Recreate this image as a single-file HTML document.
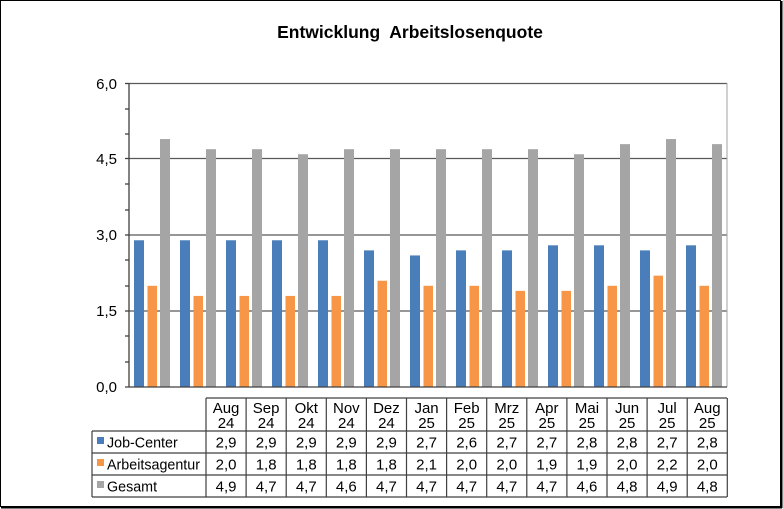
<!DOCTYPE html>
<html><head><meta charset="utf-8"><style>
html,body{margin:0;padding:0;background:#fff}
svg{display:block;font-family:"Liberation Sans",Arial,sans-serif}
</style></head><body>
<svg width="783" height="509" viewBox="0 0 783 509" xmlns="http://www.w3.org/2000/svg">
<rect x="0.5" y="0.5" width="780" height="506" fill="#fff" stroke="#000" stroke-width="1"/>
<line x1="781.5" y1="1" x2="781.5" y2="508" stroke="#000" stroke-width="2"/>
<line x1="1" y1="507.5" x2="782" y2="507.5" stroke="#000" stroke-width="2"/>
<text x="410" y="38" text-anchor="middle" font-size="17.5" font-weight="bold">Entwicklung&#160; Arbeitslosenquote</text>
<g stroke="#595959" stroke-width="1.2">
<line x1="129" y1="83.5" x2="727" y2="83.5"/>
<line x1="129" y1="158.5" x2="727" y2="158.5"/>
<line x1="129" y1="235" x2="727" y2="235"/>
<line x1="129" y1="311" x2="727" y2="311"/>
</g>
<line x1="727" y1="83" x2="727" y2="387" stroke="#a0a0a0" stroke-width="1"/>
<g id="bars"></g>
<g stroke="#404040" stroke-width="1.3">
<line x1="129" y1="83" x2="129" y2="387"/>
<line x1="125" y1="387" x2="727" y2="387"/>
<line x1="125" y1="83.5" x2="129" y2="83.5"/><line x1="125" y1="109" x2="129" y2="109"/><line x1="125" y1="134" x2="129" y2="134"/>
<line x1="125" y1="158.5" x2="129" y2="158.5"/><line x1="125" y1="184" x2="129" y2="184"/><line x1="125" y1="210" x2="129" y2="210"/>
<line x1="125" y1="235" x2="129" y2="235"/><line x1="125" y1="260" x2="129" y2="260"/><line x1="125" y1="286" x2="129" y2="286"/>
<line x1="125" y1="311" x2="129" y2="311"/><line x1="125" y1="336" x2="129" y2="336"/><line x1="125" y1="362" x2="129" y2="362"/>
</g>
<g font-size="15" text-anchor="end" fill="#000">
<text x="117" y="89">6,0</text><text x="117" y="164">4,5</text><text x="117" y="240">3,0</text><text x="117" y="316">1,5</text><text x="117" y="392">0,0</text>
</g>
<g id="tbl" stroke="#404040" stroke-width="1.2" fill="none"></g>
<g id="txt" font-size="15" fill="#000"></g>
</svg>
<script>
var jc=[2.9,2.9,2.9,2.9,2.9,2.7,2.6,2.7,2.7,2.8,2.8,2.7,2.8];
var aa=[2.0,1.8,1.8,1.8,1.8,2.1,2.0,2.0,1.9,1.9,2.0,2.2,2.0];
var gs=[4.9,4.7,4.7,4.6,4.7,4.7,4.7,4.7,4.7,4.6,4.8,4.9,4.8];
var mo=["Aug","Sep","Okt","Nov","Dez","Jan","Feb","Mrz","Apr","Mai","Jun","Jul","Aug"];
var yr=["24","24","24","24","24","25","25","25","25","25","25","25","25"];
var ns="http://www.w3.org/2000/svg";
function el(p,t,a,tx){var e=document.createElementNS(ns,t);for(var k in a)e.setAttribute(k,a[k]);if(tx!=null)e.textContent=tx;p.appendChild(e);return e;}
var b=document.getElementById("bars"),u=50.6;
for(var i=0;i<13;i++){var x=129+46*i;
el(b,"rect",{x:x+5,y:387-jc[i]*u,width:10,height:jc[i]*u,fill:"#4a7ebb"});
el(b,"rect",{x:x+18.5,y:387-aa[i]*u,width:9.5,height:aa[i]*u,fill:"#f79646"});
el(b,"rect",{x:x+31,y:387-gs[i]*u,width:10,height:gs[i]*u,fill:"#a5a5a5"});}
var t=document.getElementById("tbl"),tx=document.getElementById("txt");
var x0=206,cw=40.1,xr=727;
el(t,"line",{x1:x0,y1:398,x2:xr,y2:398});
[431,453,475,497].forEach(function(y){el(t,"line",{x1:92,y1:y,x2:xr,y2:y});});
el(t,"line",{x1:92,y1:431,x2:92,y2:497});
for(var i=0;i<=13;i++){var x=x0+cw*i;el(t,"line",{x1:x,y1:398,x2:x,y2:497});}
for(var i=0;i<13;i++){var cx=x0+cw*(i+0.5);
el(tx,"text",{x:cx,y:413,"text-anchor":"middle"},mo[i]);
el(tx,"text",{x:cx,y:428,"text-anchor":"middle"},yr[i]);
[jc,aa,gs].forEach(function(a,r){el(tx,"text",{x:cx,y:447.5+22*r,"text-anchor":"middle"},a[i].toFixed(1).replace(".",","));});}
var names=["Job-Center","Arbeitsagentur","Gesamt"],cols=["#4a7ebb","#f79646","#a5a5a5"];
for(var r=0;r<3;r++){el(tx,"rect",{x:97,y:437+22*r,width:7,height:7,fill:cols[r]});
el(tx,"text",{x:107,y:447.5+22*r,"font-size":"14.3"},names[r]);}
</script>
</body></html>
